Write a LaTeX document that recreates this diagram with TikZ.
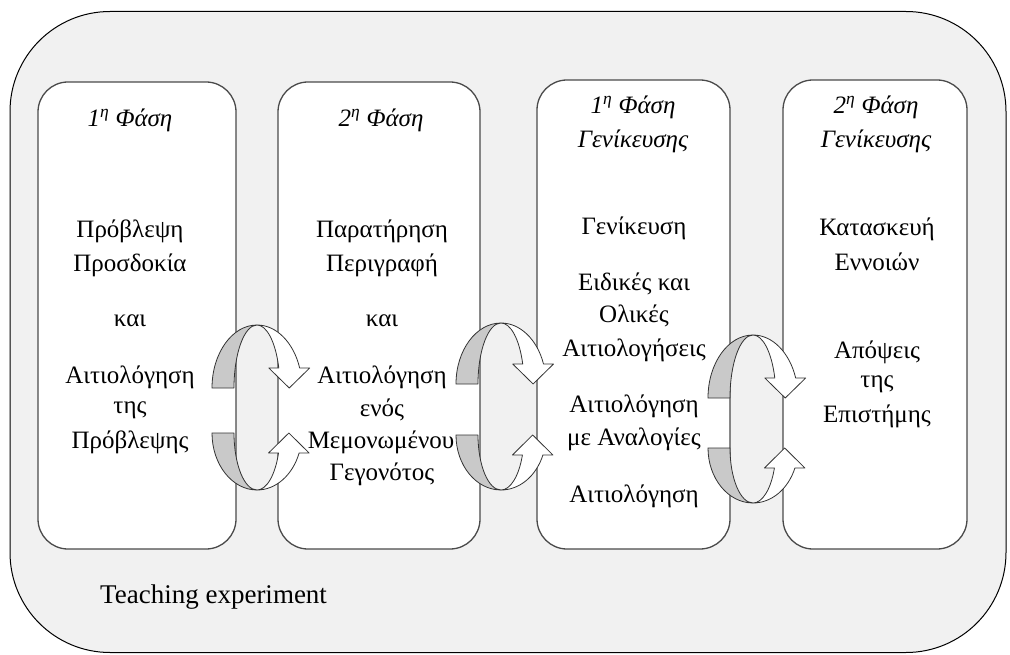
\documentclass[tikz,border=0pt]{standalone}
\usepackage{fontspec}
\setmainfont{Liberation Serif}
\definecolor{panelbg}{HTML}{F1F1F1}
\definecolor{boxline}{HTML}{4A4A4A}
\definecolor{ringgray}{HTML}{C9C9C9}
\definecolor{ringline}{HTML}{333333}

% Circular two-part arrow: #1 centre x, #2 centre y of upper half, #3 its vertical radius,
% #4 centre y of lower half, #5 its vertical radius
\newcommand\ringarrow[5]{%
  \pgfmathsetmacro\ringta{360-asin(20/#3)}%
  \pgfmathsetmacro\ringtao{45*cos(\ringta)}%
  \pgfmathsetmacro\ringtai{23*cos(\ringta)}%
  \pgfmathsetmacro\ringtb{asin(20/#5)}%
  \pgfmathsetmacro\ringtbo{45*cos(\ringtb)}%
  \pgfmathsetmacro\ringtbi{23*cos(\ringtb)}%
  % upper half: back face and front face with head
  \draw[ringback] (#1-45,#2) arc[start angle=180,end angle=270,x radius=45,y radius=#3]
    arc[start angle=270,end angle=180,x radius=23,y radius=#3] -- cycle;
  \draw[ringfront] (#1,#2-#3) arc[start angle=270,end angle=\ringta,x radius=45,y radius=#3]
    -- ++(10,0) -- ({#1+(\ringtao+\ringtai)/2},#2)
    -- ({#1+\ringtai-10},{#2-20}) -- ({#1+\ringtai},{#2-20})
    arc[start angle=\ringta,end angle=270,x radius=23,y radius=#3] -- cycle;
  % lower half
  \draw[ringback] (#1-45,#4) arc[start angle=180,end angle=90,x radius=45,y radius=#5]
    arc[start angle=90,end angle=180,x radius=23,y radius=#5] -- cycle;
  \draw[ringfront] (#1,#4+#5) arc[start angle=90,end angle=\ringtb,x radius=45,y radius=#5]
    -- ++(10,0) -- ({#1+(\ringtbo+\ringtbi)/2},#4)
    -- ({#1+\ringtbi-10},{#4+20}) -- ({#1+\ringtbi},{#4+20})
    arc[start angle=\ringtb,end angle=90,x radius=23,y radius=#5] -- cycle;
}

\begin{document}
\begin{tikzpicture}[x=1pt,y=-1pt,
  frame/.style={draw=black, fill=panelbg, line width=1pt, rounded corners=100pt, inner sep=0pt},
  phase/.style={draw=boxline, fill=white, line width=1.3pt, rounded corners=30pt, inner sep=0pt},
  ringback/.style={draw=ringline, fill=ringgray, line width=0.8pt, line join=round},
  ringfront/.style={draw=ringline, fill=white, line width=0.8pt, line join=round},
  lbl/.style={font=\fontsize{25}{30}\selectfont, inner sep=0pt},
  hdr/.style={font=\fontsize{25}{30}\selectfont\itshape, inner sep=0pt}]
\useasboundingbox (0,0) rectangle (1010,655);

% outer frame
\node[frame, minimum width=996, minimum height=641] (exp) at (508,332) {};

% phase boxes
\node[phase, minimum width=198, minimum height=467] (p1) at (137,315.5) {};
\node[phase, minimum width=202, minimum height=467] (p2) at (379,315.5) {};
\node[phase, minimum width=193, minimum height=469] (p3) at (633.5,314.5) {};
\node[phase, minimum width=184, minimum height=469] (p4) at (875,314.5) {};

% cycles between the phases
\ringarrow{257}{388}{63}{433}{57}
\ringarrow{501}{384}{61}{435}{55}
\ringarrow{753}{398}{63}{448}{55}

% phase 1
\node[hdr] (h1) at (130,120) {1\textsuperscript{η} Φάση};
\node[lbl] (a1) at (130,231) {Πρόβλεψη};
\node[lbl] (a2) at (130,265) {Προσδοκία};
\node[lbl] (a3) at (130,321) {και};
\node[lbl] (a4) at (130,377) {Αιτιολόγηση};
\node[lbl] (a5) at (130,410) {της};
\node[lbl] (a6) at (130,442) {Πρόβλεψης};

% phase 2
\node[hdr] (h2) at (381,120) {2\textsuperscript{η} Φάση};
\node[lbl] (b1) at (382,231) {Παρατήρηση};
\node[lbl] (b2) at (382,265) {Περιγραφή};
\node[lbl] (b3) at (382,321) {και};
\node[lbl] (b4) at (382,377) {Αιτιολόγηση};
\node[lbl] (b5) at (382,410) {ενός};
\node[lbl] (b6) at (381,442) {Μεμονωμένου};
\node[lbl] (b7) at (382,474) {Γεγονότος};

% first generalisation phase
\node[hdr] (h3a) at (633,107) {1\textsuperscript{η} Φάση};
\node[hdr] (h3b) at (633,141) {Γενίκευσης};
\node[lbl] (c1) at (634,228) {Γενίκευση};
\node[lbl] (c2) at (634,284) {Ειδικές και};
\node[lbl] (c3) at (634,316) {Ολικές};
\node[lbl] (c4) at (634,350) {Αιτιολογήσεις};
\node[lbl] (c5) at (634,406) {Αιτιολόγηση};
\node[lbl] (c6) at (634,439) {με Αναλογίες};
\node[lbl] (c7) at (634,496) {Αιτιολόγηση};

% second generalisation phase
\node[hdr] (h4a) at (876,107) {2\textsuperscript{η} Φάση};
\node[hdr] (h4b) at (876,141) {Γενίκευσης};
\node[lbl] (d1) at (877,229) {Κατασκευή};
\node[lbl] (d2) at (877,262) {Εννοιών};
\node[lbl] (d3) at (877,352) {Απόψεις};
\node[lbl] (d4) at (877,384) {της};
\node[lbl] (d5) at (877,416) {Επιστήμης};

\node[lbl, font=\fontsize{27}{32}\selectfont, anchor=west] (te) at (100,597) {Teaching experiment};
\end{tikzpicture}
\end{document}
